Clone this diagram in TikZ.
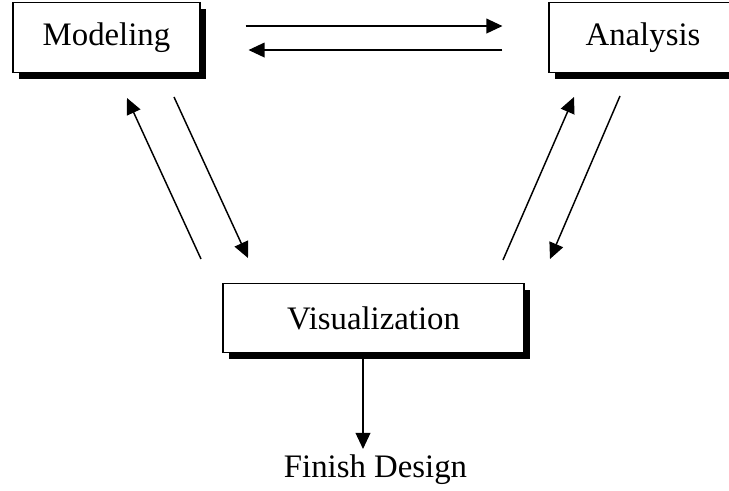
\documentclass[tikz,border=0pt]{standalone}
\usepackage{fontspec}
\setmainfont{Liberation Serif}
\usetikzlibrary{arrows.meta,shadows}
\begin{document}
\begin{tikzpicture}[x=0.75pt,y=-0.75pt,
  stage/.style={draw,line width=0.8pt,fill=white,minimum height=52pt,
    font=\fontsize{24.6}{29}\selectfont,
    drop shadow={shadow xshift=4.8pt,shadow yshift=-4.8pt,fill=black,opacity=1}},
  flow/.style={-{Triangle[length=12pt,width=11pt]},line width=1.1pt}]
\useasboundingbox (0,0) rectangle (729,491);
\clip (0,0) rectangle (729,491);

% Stages
\node[stage,minimum width=140.25pt] (model) at (106.5,37.5) {Modeling};
\node[stage,minimum width=141pt] (analysis) at (643,37.5) {Analysis};
\node[stage,minimum width=225.75pt] (visual) at (373.5,318) {Visualization};
\node[anchor=base,font=\fontsize{24.6}{29}\selectfont] (finish) at (375.5,478) {Finish Design};

% Modeling <-> Analysis
\draw[flow,shorten <=33.75pt,shorten >=34.5pt] ([yshift=8.6pt]model.east) -- ([yshift=8.6pt]analysis.west);
\draw[flow,shorten <=34.5pt,shorten >=36pt] ([yshift=-9.4pt]analysis.west) -- ([yshift=-9.4pt]model.east);

% Modeling <-> Visualization
\coordinate (mv1) at (174,97);  \coordinate (mv2) at (248,258);
\coordinate (vm1) at (201,259); \coordinate (vm2) at (127,98);
\draw[flow] (mv1) -- (mv2);
\draw[flow] (vm1) -- (vm2);

% Analysis <-> Visualization
\coordinate (av1) at (620,96);  \coordinate (av2) at (550,259);
\coordinate (va1) at (503,260); \coordinate (va2) at (574,97);
\draw[flow] (av1) -- (av2);
\draw[flow] (va1) -- (va2);

% Visualization -> Finish Design
\coordinate (fdtop) at (363,449);
\draw[flow] (visual.south -| fdtop) -- (fdtop);
\end{tikzpicture}
\end{document}
